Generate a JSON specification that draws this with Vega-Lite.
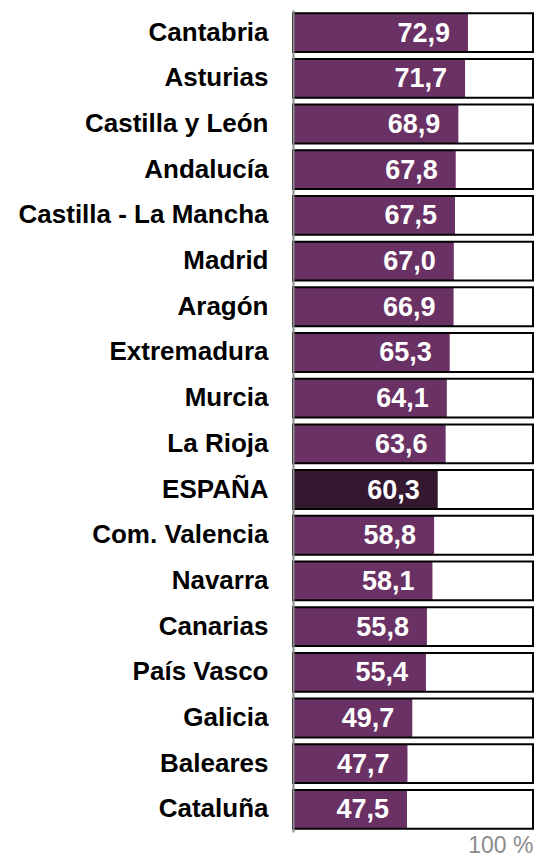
{
  "$schema": "https://vega.github.io/schema/vega-lite/v6.json",
  "width": 240,
  "height": 822,
  "autosize": {"type": "none"},
  "padding": {"left": 293, "top": 10, "right": 1, "bottom": 24},
  "background": "white",
  "config": {
    "view": {"stroke": null},
    "font": "Liberation Sans",
    "locale": {"number": {"decimal": ",", "thousands": ".", "grouping": [3], "currency": ["", " €"]}}
  },
  "data": {
    "values": [
      {"region": "Cantabria", "valor": 72.9, "grupo": "CCAA"},
      {"region": "Asturias", "valor": 71.7, "grupo": "CCAA"},
      {"region": "Castilla y León", "valor": 68.9, "grupo": "CCAA"},
      {"region": "Andalucía", "valor": 67.8, "grupo": "CCAA"},
      {"region": "Castilla - La Mancha", "valor": 67.5, "grupo": "CCAA"},
      {"region": "Madrid", "valor": 67.0, "grupo": "CCAA"},
      {"region": "Aragón", "valor": 66.9, "grupo": "CCAA"},
      {"region": "Extremadura", "valor": 65.3, "grupo": "CCAA"},
      {"region": "Murcia", "valor": 64.1, "grupo": "CCAA"},
      {"region": "La Rioja", "valor": 63.6, "grupo": "CCAA"},
      {"region": "ESPAÑA", "valor": 60.3, "grupo": "España"},
      {"region": "Com. Valencia", "valor": 58.8, "grupo": "CCAA"},
      {"region": "Navarra", "valor": 58.1, "grupo": "CCAA"},
      {"region": "Canarias", "valor": 55.8, "grupo": "CCAA"},
      {"region": "País Vasco", "valor": 55.4, "grupo": "CCAA"},
      {"region": "Galicia", "valor": 49.7, "grupo": "CCAA"},
      {"region": "Baleares", "valor": 47.7, "grupo": "CCAA"},
      {"region": "Cataluña", "valor": 47.5, "grupo": "CCAA"}
    ]
  },
  "encoding": {
    "y": {
      "field": "region",
      "type": "nominal",
      "sort": null,
      "scale": {"paddingInner": 0.15, "paddingOuter": 0.07},
      "axis": {
        "title": null,
        "ticks": false,
        "domain": true,
        "domainColor": "#8c8c8c",
        "domainWidth": 2,
        "zindex": 1,
        "labelFont": "Liberation Sans",
        "labelFontSize": 26,
        "labelFontWeight": "bold",
        "labelColor": "#000000",
        "labelPadding": 25,
        "labelLimit": 300,
        "grid": false
      }
    }
  },
  "layer": [
    {
      "mark": {"type": "bar"},
      "encoding": {
        "x": {
          "field": "valor",
          "type": "quantitative",
          "scale": {"domain": [0, 100], "nice": false},
          "axis": {
            "title": "100 %",
            "labels": false,
            "ticks": false,
            "domain": false,
            "grid": false,
            "titleAnchor": "end",
            "titleAlign": "right",
            "titleFont": "Liberation Sans",
            "titleFontSize": 23,
            "titleFontWeight": "normal",
            "titleColor": "#8c8c8c",
            "titlePadding": 2
          }
        },
        "color": {
          "field": "grupo",
          "type": "nominal",
          "scale": {"domain": ["CCAA", "España"], "range": ["#6A3165", "#33182F"]},
          "legend": null
        }
      }
    },
    {
      "mark": {"type": "bar", "fillOpacity": 0, "stroke": "#000000", "strokeWidth": 2},
      "encoding": {
        "x": {"datum": 0, "type": "quantitative"},
        "x2": {"datum": 100}
      }
    },
    {
      "mark": {
        "type": "text",
        "align": "right",
        "baseline": "middle",
        "dx": -18,
        "dy": 1,
        "font": "Liberation Sans",
        "fontSize": 27,
        "fontWeight": "bold",
        "color": "#ffffff"
      },
      "encoding": {
        "x": {"field": "valor", "type": "quantitative"},
        "text": {"field": "valor", "type": "quantitative", "format": ".1f"}
      }
    }
  ]
}
